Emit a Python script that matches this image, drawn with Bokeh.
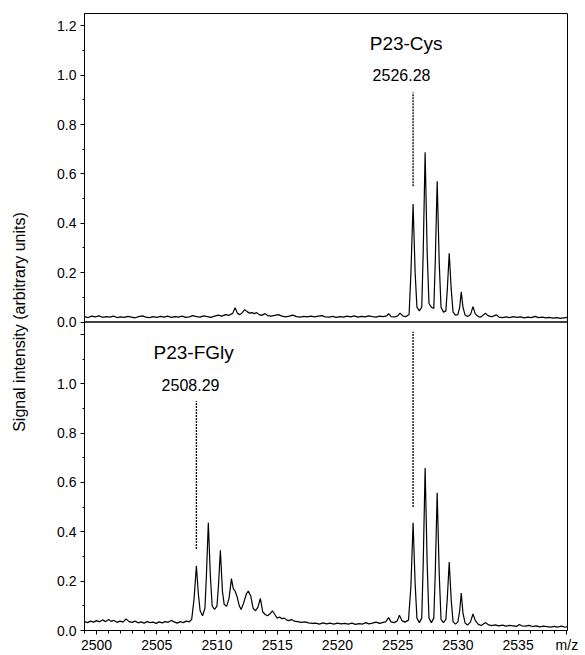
from bokeh.plotting import figure
from bokeh.models import Range1d, FixedTicker, Span
from bokeh.core.properties import value
from bokeh.embed import file_html
from bokeh.resources import INLINE

FONT = "Liberation Sans"

# ---- upper trace: P23-Cys (m/z, intensity) ----
cys_mz = [2499.0, 2499.3, 2499.6, 2499.9, 2500.2, 2500.5, 2500.8, 2501.1, 2501.4, 2501.7,
          2502.0, 2502.3, 2502.6, 2502.9, 2503.2, 2503.5, 2503.8, 2504.1, 2504.4, 2504.7,
          2505.0, 2505.3, 2505.6, 2505.9, 2506.2, 2506.5, 2506.8, 2507.1, 2507.4, 2507.7,
          2508.0, 2508.3, 2508.6, 2508.9, 2509.2, 2509.5, 2509.8, 2510.1, 2510.4, 2510.7,
          2511.0, 2511.3, 2511.5, 2511.7, 2511.9, 2512.1, 2512.3, 2512.5, 2512.7, 2512.9,
          2513.1, 2513.3, 2513.5, 2513.7, 2514.0, 2514.2, 2514.5, 2514.8, 2515.1, 2515.4,
          2515.7, 2516.0, 2516.3, 2516.6, 2516.9, 2517.2, 2517.5, 2517.8, 2518.1, 2518.4,
          2518.7, 2519.0, 2519.3, 2519.6, 2519.9, 2520.2, 2520.5, 2520.8, 2521.1, 2521.4,
          2521.7, 2522.0, 2522.3, 2522.6, 2522.9, 2523.2, 2523.5, 2523.8, 2524.1, 2524.25,
          2524.45, 2524.8, 2525.0, 2525.2, 2525.45, 2525.7, 2525.95, 2526.1, 2526.28, 2526.45,
          2526.6, 2526.8, 2527.0, 2527.12, 2527.28, 2527.45, 2527.6, 2527.8, 2528.0, 2528.12,
          2528.28, 2528.45, 2528.6, 2528.8, 2529.0, 2529.12, 2529.28, 2529.45, 2529.6, 2529.8,
          2530.0, 2530.15, 2530.28, 2530.42, 2530.6, 2530.8, 2531.05, 2531.25, 2531.45, 2531.7,
          2531.9, 2532.1, 2532.3, 2532.5, 2532.8, 2533.0, 2533.2, 2533.4, 2533.7, 2534.0,
          2534.3, 2534.6, 2534.9, 2535.2, 2535.5, 2535.8, 2536.1, 2536.4, 2536.7, 2537.0,
          2537.3, 2537.6, 2537.9, 2538.2, 2538.5, 2538.8, 2539.1]
cys_int = [0.022, 0.018, 0.024, 0.021, 0.025, 0.019, 0.022, 0.020, 0.024, 0.018,
           0.021, 0.019, 0.023, 0.020, 0.017, 0.022, 0.025, 0.020, 0.018, 0.022,
           0.019, 0.023, 0.020, 0.024, 0.019, 0.022, 0.020, 0.024, 0.019, 0.021,
           0.026, 0.022, 0.020, 0.025, 0.022, 0.019, 0.024, 0.028, 0.024, 0.030,
           0.027, 0.035, 0.058, 0.035, 0.030, 0.038, 0.050, 0.042, 0.036, 0.038,
           0.034, 0.038, 0.030, 0.027, 0.034, 0.026, 0.024, 0.027, 0.030, 0.024,
           0.021, 0.024, 0.028, 0.022, 0.020, 0.023, 0.021, 0.024, 0.021, 0.024,
           0.026, 0.021, 0.020, 0.023, 0.019, 0.022, 0.020, 0.024, 0.021, 0.025,
           0.020, 0.023, 0.021, 0.025, 0.022, 0.020, 0.024, 0.022, 0.025, 0.034,
           0.022, 0.021, 0.025, 0.036, 0.024, 0.022, 0.030, 0.200, 0.478, 0.200,
           0.060, 0.045, 0.060, 0.280, 0.688, 0.280, 0.075, 0.060, 0.055, 0.240,
           0.570, 0.240, 0.060, 0.040, 0.045, 0.130, 0.278, 0.130, 0.040, 0.028,
           0.030, 0.060, 0.122, 0.060, 0.028, 0.022, 0.030, 0.062, 0.032, 0.022,
           0.020, 0.028, 0.035, 0.026, 0.021, 0.025, 0.029, 0.020, 0.018, 0.021,
           0.018, 0.022, 0.019, 0.021, 0.017, 0.020, 0.018, 0.023, 0.018, 0.020,
           0.017, 0.019, 0.016, 0.018, 0.015, 0.017, 0.019]

# ---- lower trace: P23-FGly + P23-Cys (m/z, intensity) ----
fgly_mz = [2499.0, 2499.25, 2499.5, 2499.75, 2500.0, 2500.25, 2500.5, 2500.75, 2501.0, 2501.2,
           2501.45, 2501.7, 2501.95, 2502.2, 2502.45, 2502.7, 2502.95, 2503.2, 2503.45, 2503.7,
           2503.95, 2504.2, 2504.45, 2504.7, 2504.95, 2505.2, 2505.45, 2505.7, 2505.95, 2506.2,
           2506.45, 2506.7, 2506.95, 2507.2, 2507.45, 2507.7, 2507.9, 2508.1, 2508.29, 2508.45,
           2508.6, 2508.8, 2509.0, 2509.12, 2509.28, 2509.45, 2509.6, 2509.8, 2510.0, 2510.12,
           2510.28, 2510.45, 2510.6, 2510.8, 2511.0, 2511.2, 2511.35, 2511.5, 2511.65, 2511.85,
           2512.0, 2512.2, 2512.45, 2512.6, 2512.8, 2513.0, 2513.2, 2513.4, 2513.6, 2513.8,
           2514.0, 2514.2, 2514.45, 2514.6, 2514.8, 2515.0, 2515.2, 2515.4, 2515.6, 2515.8,
           2516.0, 2516.2, 2516.4, 2516.7, 2517.0, 2517.3, 2517.6, 2517.9, 2518.2, 2518.5,
           2518.8, 2519.1, 2519.4, 2519.7, 2520.0, 2520.3, 2520.6, 2520.9, 2521.2, 2521.5,
           2521.8, 2522.1, 2522.35, 2522.6, 2522.9, 2523.2, 2523.5, 2523.8, 2524.0, 2524.25,
           2524.45, 2524.7, 2524.95, 2525.15, 2525.35, 2525.6, 2525.9, 2526.1, 2526.28, 2526.45,
           2526.6, 2526.8, 2527.0, 2527.12, 2527.28, 2527.45, 2527.6, 2527.8, 2528.0, 2528.12,
           2528.28, 2528.45, 2528.6, 2528.8, 2529.0, 2529.12, 2529.28, 2529.45, 2529.6, 2529.8,
           2530.0, 2530.15, 2530.28, 2530.42, 2530.6, 2530.8, 2531.05, 2531.25, 2531.45, 2531.7,
           2531.95, 2532.15, 2532.3, 2532.5, 2532.8, 2533.1, 2533.4, 2533.7, 2534.0, 2534.3,
           2534.6, 2534.9, 2535.1, 2535.3, 2535.6, 2535.9, 2536.2, 2536.5, 2536.8, 2537.1,
           2537.4, 2537.7, 2538.0, 2538.3, 2538.6, 2538.9, 2539.1]
fgly_int = [0.036, 0.032, 0.038, 0.034, 0.040, 0.035, 0.043, 0.036, 0.045, 0.037,
            0.041, 0.033, 0.038, 0.034, 0.047, 0.036, 0.033, 0.038, 0.031, 0.035,
            0.030, 0.036, 0.032, 0.034, 0.029, 0.035, 0.031, 0.036, 0.033, 0.041,
            0.035, 0.030, 0.036, 0.032, 0.038, 0.035, 0.045, 0.130, 0.262, 0.150,
            0.080, 0.060, 0.090, 0.220, 0.437, 0.220, 0.100, 0.085, 0.100, 0.180,
            0.325, 0.160, 0.105, 0.098, 0.130, 0.210, 0.170, 0.160, 0.140, 0.100,
            0.085, 0.110, 0.150, 0.160, 0.140, 0.090, 0.080, 0.095, 0.130, 0.075,
            0.065, 0.060, 0.070, 0.080, 0.065, 0.050, 0.055, 0.048, 0.050, 0.042,
            0.040, 0.045, 0.038, 0.036, 0.033, 0.035, 0.031, 0.029, 0.030, 0.026,
            0.031, 0.027, 0.030, 0.026, 0.030, 0.027, 0.029, 0.026, 0.030, 0.025,
            0.028, 0.026, 0.032, 0.027, 0.030, 0.034, 0.029, 0.033, 0.035, 0.052,
            0.035, 0.032, 0.038, 0.062, 0.040, 0.034, 0.042, 0.180, 0.437, 0.190,
            0.050, 0.032, 0.050, 0.270, 0.658, 0.270, 0.050, 0.032, 0.050, 0.230,
            0.558, 0.230, 0.045, 0.032, 0.045, 0.130, 0.277, 0.120, 0.035, 0.026,
            0.035, 0.080, 0.152, 0.070, 0.030, 0.022, 0.035, 0.067, 0.040, 0.025,
            0.020, 0.027, 0.032, 0.024, 0.020, 0.023, 0.019, 0.022, 0.018, 0.021,
            0.019, 0.017, 0.024, 0.019, 0.018, 0.021, 0.016, 0.019, 0.015, 0.018,
            0.016, 0.014, 0.017, 0.014, 0.018, 0.013, 0.016]

# ---- annotations ----
cys_peak = 2526.28
fgly_peak = 2508.29
cys_name = "P23-Cys"
fgly_name = "P23-FGly"

# x tick values, the last one carries the unit label
x_ticks = [2500, 2505, 2510, 2515, 2520, 2525, 2530, 2535]
x_minor = [2499, 2501, 2502, 2503, 2504, 2506, 2507, 2508, 2509, 2511, 2512, 2513, 2514,
           2516, 2517, 2518, 2519, 2521, 2522, 2523, 2524, 2526, 2527, 2528, 2529, 2531,
           2532, 2533, 2534, 2536, 2537, 2538]
x_unit_tick = 2539.05
x_unit = "m/z"

# y tick values (per panel)
panel_ticks = [0.0, 0.2, 0.4, 0.6, 0.8, 1.0, 1.2]
panel_minor = [0.1, 0.3, 0.5, 0.7, 0.9, 1.1]

PANEL = 1.25  # height of one panel in y units

p = figure(width=585, height=655, output_backend="svg", toolbar_location=None,
           x_range=Range1d(2499.0, 2539.1), y_range=Range1d(0, 2 * PANEL),
           min_border_left=84, min_border_right=18, min_border_top=13, min_border_bottom=0,
           background_fill_color="white", border_fill_color="white")
p.extra_y_ranges = {"top": Range1d(-PANEL, PANEL)}

p.xgrid.visible = False
p.ygrid.visible = False
p.outline_line_color = "black"
p.outline_line_width = 1

# traces
p.line(fgly_mz, fgly_int, line_color="black", line_width=1.2)
p.line(cys_mz, cys_int, line_color="black", line_width=1.2, y_range_name="top")

# divider between panels
p.add_layout(Span(location=PANEL, dimension="width", line_color="black", line_width=1.6))

# dotted peak markers
p.segment(x0=[cys_peak], y0=[0.55], x1=[cys_peak], y1=[0.93], y_range_name="top",
          line_color="black", line_width=1.3, line_dash="2 1")
p.segment(x0=[cys_peak, fgly_peak], y0=[0.50, 0.33], x1=[cys_peak, fgly_peak], y1=[1.21, 0.93],
          line_color="black", line_width=1.3, line_dash="2 1")

# texts
p.text(x=[cys_peak - 3.6], y=[1.128], text=[cys_name], y_range_name="top",
       text_font=value(FONT), text_font_size="19px", text_color="black",
       text_align="left", text_baseline="middle")
p.text(x=[cys_peak - 3.36], y=[1.0], text=[f"{cys_peak:.2f}"], y_range_name="top",
       text_font=value(FONT), text_font_size="16px", text_color="black",
       text_align="left", text_baseline="middle")
p.text(x=[fgly_peak - 3.56], y=[1.128], text=[fgly_name],
       text_font=value(FONT), text_font_size="19px", text_color="black",
       text_align="left", text_baseline="middle")
p.text(x=[fgly_peak - 2.89], y=[0.995], text=[f"{fgly_peak:.2f}"],
       text_font=value(FONT), text_font_size="16px", text_color="black",
       text_align="left", text_baseline="middle")

# x axis
xa = p.xaxis[0]
xa.axis_label = None
xa.ticker = FixedTicker(ticks=x_ticks + [x_unit_tick], minor_ticks=x_minor)
xa.major_label_overrides = {t: str(t) for t in x_ticks} | {x_unit_tick: x_unit}
xa.major_tick_in = 0
xa.major_tick_out = 4
xa.minor_tick_in = 0
xa.minor_tick_out = 3
xa.major_label_standoff = 2
xa.major_label_text_font = FONT
xa.major_label_text_font_size = "14px"
xa.major_label_text_color = "black"
xa.axis_line_color = "black"
xa.major_tick_line_color = "black"
xa.minor_tick_line_color = "black"

# y axis: two stacked panels sharing one axis
ya = p.yaxis[0]
major = [round(v, 2) for v in panel_ticks] + [round(PANEL + v, 2) for v in panel_ticks]
minor = [round(v, 2) for v in panel_minor] + [round(PANEL + v, 2) for v in panel_minor]
overrides = {}
for v in panel_ticks:
    overrides[round(v, 2)] = f"{v:.1f}"
    overrides[round(PANEL + v, 2)] = f"{v:.1f}"
overrides[round(panel_ticks[-1], 2)] = ""
ya.ticker = FixedTicker(ticks=major, minor_ticks=minor)
ya.major_label_overrides = overrides
ya.major_tick_in = 0
ya.major_tick_out = 4
ya.minor_tick_in = 0
ya.minor_tick_out = 2
ya.major_label_standoff = 4
ya.major_label_text_font = FONT
ya.major_label_text_font_size = "14px"
ya.major_label_text_color = "black"
ya.axis_line_color = "black"
ya.major_tick_line_color = "black"
ya.minor_tick_line_color = "black"
ya.axis_label = "Signal intensity (arbitrary units)"
ya.axis_label_text_font = FONT
ya.axis_label_text_font_size = "16px"
ya.axis_label_text_font_style = "normal"
ya.axis_label_text_color = "black"
ya.axis_label_standoff = 26

open("out.html", "w").write(file_html(p, INLINE))
